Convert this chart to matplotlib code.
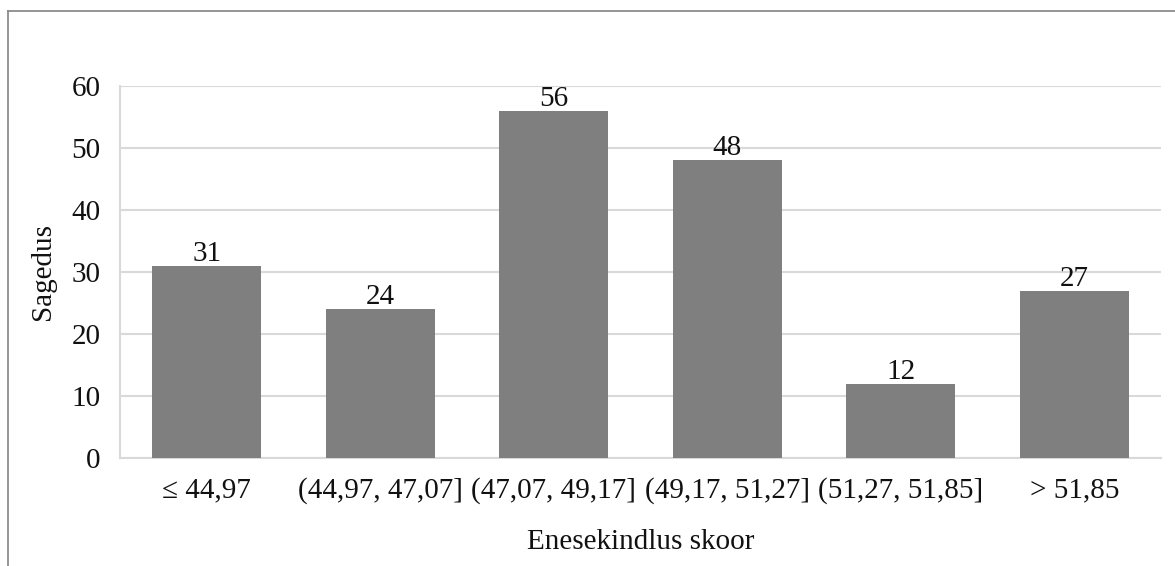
import matplotlib.pyplot as plt
from matplotlib.lines import Line2D

categories = ["\u2264 44,97", "(44,97, 47,07]", "(47,07, 49,17]",
              "(49,17, 51,27]", "(51,27, 51,85]", "> 51,85"]
counts = [31, 24, 56, 48, 12, 27]
yticks = [0, 10, 20, 30, 40, 50, 60]

plt.rcParams["font.family"] = ["Liberation Serif", "DejaVu Serif"]

W, H = 1175, 566
FS = 21
fig = plt.figure(figsize=(W / 100, H / 100), dpi=100)
ax = fig.add_axes([120 / W, 1 - 458 / H, (1161 - 120) / W, (458 - 86) / H])

x = range(len(categories))
bars = ax.bar(x, counts, width=0.63, color="#7f7f7f", zorder=3)
for b, v in zip(bars, counts):
    ax.text(b.get_x() + b.get_width() / 2, v + 0.8, str(v),
            ha="center", va="baseline", fontsize=FS, color="#111111", zorder=4)

ax.set_xlim(-0.5, len(categories) - 0.5)
ax.set_ylim(0, 60)
ax.set_yticks(yticks)
ax.set_xticks(list(x))
ax.set_xticklabels(categories)
ax.tick_params(axis="both", length=0, labelsize=FS, colors="#111111")
ax.tick_params(axis="x", pad=14)
ax.tick_params(axis="y", pad=14)
ax.grid(axis="y", color="#d9d9d9", linewidth=1.5, zorder=0)
for s in ("top", "right"):
    ax.spines[s].set_visible(False)
for s in ("left", "bottom"):
    ax.spines[s].set_color("#d9d9d9")
    ax.spines[s].set_linewidth(1.5)

ax.set_ylabel("Sagedus", fontsize=FS, color="#111111", labelpad=11)
ax.set_xlabel("Enesekindlus skoor", fontsize=FS, color="#111111", labelpad=18)

# outer frame (cropped at right and bottom)
fx, fy = 7.5 / W, 1 - 11 / H
fig.add_artist(Line2D([fx, 1.01], [fy, fy], transform=fig.transFigure,
                      color="#8c8c8c", linewidth=1.3))
fig.add_artist(Line2D([fx, fx], [fy, -0.01], transform=fig.transFigure,
                      color="#8c8c8c", linewidth=1.3))

fig.savefig("out.png", dpi=100)
